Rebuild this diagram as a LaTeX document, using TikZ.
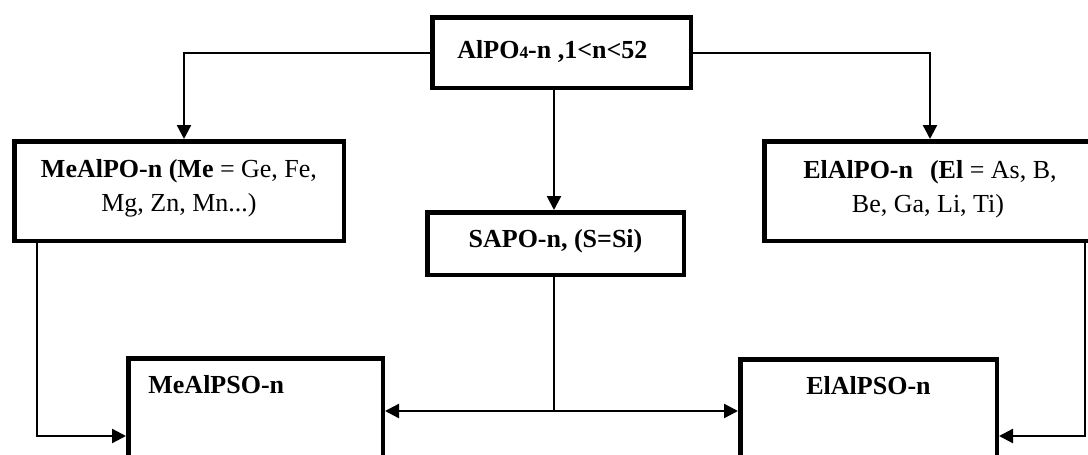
\documentclass[tikz,border=0pt]{standalone}
\usepackage{fontspec}
\setmainfont{Liberation Serif}
\usetikzlibrary{arrows.meta}
\begin{document}
\begin{tikzpicture}[x=0.5pt,y=-0.5pt,
  box/.style={draw, line width=2.25pt, inner sep=0pt, fill=none},
  txt/.style={inner sep=0pt, font=\fontsize{13}{17}\selectfont},
  conn/.style={line width=1.2pt},
  arr/.style={conn, -{Triangle[length=7pt,width=7pt]}},
  dblarr/.style={conn, {Triangle[length=7pt,width=7pt]}-{Triangle[length=7pt,width=7pt]}}]
\useasboundingbox (0,0) rectangle (1088,455);
\clip (0,0) rectangle (1088,455);

% boxes
\node[box, minimum width=129.25pt, minimum height=35.25pt] (alpo) at (561.5,52.5) {};
\node[box, minimum width=164.75pt, minimum height=49.75pt] (mealpo) at (179,191) {};
\node[box, minimum width=164.75pt, minimum height=49.75pt] (elalpo) at (929,191) {};
\node[box, minimum width=128.25pt, minimum height=31.25pt] (sapo) at (555.5,243.5) {};
\node[box, minimum width=127.25pt, minimum height=119.75pt] (mealpso) at (255.5,478) {};
\node[box, minimum width=128.25pt, minimum height=119.75pt] (elalpso) at (868.5,479) {};

% texts
\node[txt, anchor=base west] (alpo-t) at (457,58)
  {\textbf{AlPO\raisebox{-0.4pt}{\fontsize{8.7}{10}\selectfont 4}-n ,1<n<52}};
\node[txt, anchor=base] (mealpo-a) at (179,177) {\textbf{MeAlPO-n (Me} = Ge, Fe,};
\node[txt, anchor=base] (mealpo-b) at (179,211) {Mg, Zn, Mn...)};
\node[txt, anchor=base] (elalpo-a) at (930,178) {\textbf{ElAlPO-n}\hspace{8.5pt}\textbf{(El} = As, B,};
\node[txt, anchor=base] (elalpo-b) at (928,212) {Be, Ga, Li, Ti)};
\node[txt, anchor=base] (sapo-t) at (555.5,247) {\textbf{SAPO-n, (S=Si)}};
\node[txt, anchor=base west] (mealpso-t) at (148,393) {\textbf{MeAlPSO-n}};
\node[txt, anchor=base] (elalpso-t) at (868.5,394) {\textbf{ElAlPSO-n}};

% routing points
\coordinate (tl) at (184,53);
\coordinate (tr) at (930,53);
\coordinate (mx) at (554,150);
\coordinate (junc) at (554,411);
\coordinate (lturn) at (37,436);
\coordinate (rturn) at (1085,436);

% connectors from the top box
\draw[arr] (alpo.west |- tl) -- (tl) -- (mealpo.north -| tl);
\draw[arr] (alpo.east |- tr) -- (tr) -- (elalpo.north -| tr);
\draw[arr] (alpo.south -| mx) -- (sapo.north -| mx);

% connectors to the bottom boxes
\draw[conn] (sapo.south -| junc) -- (junc);
\draw[dblarr] (mealpso.east |- junc) -- (elalpso.west |- junc);
\draw[arr] (mealpo.south -| lturn) -- (lturn) -- (mealpso.west |- lturn);
\draw[arr] (elalpo.south -| rturn) -- (rturn) -- (elalpso.east |- rturn);
\end{tikzpicture}
\end{document}
